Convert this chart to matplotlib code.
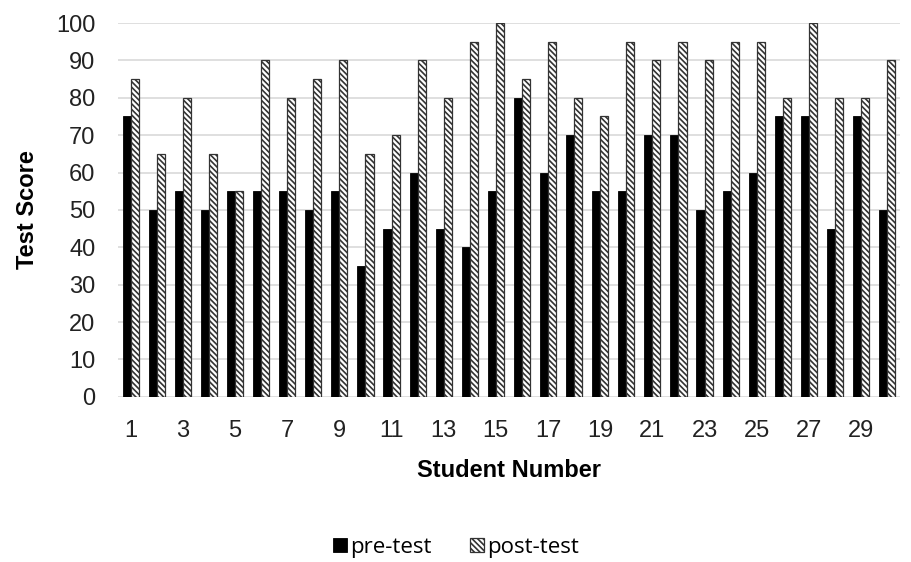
import matplotlib
matplotlib.use("Agg")
import matplotlib.pyplot as plt
import numpy as np

students = list(range(1, 31))
pre_test = [75, 50, 55, 50, 55, 55, 55, 50, 55, 35, 45, 60, 45, 40, 55,
            80, 60, 70, 55, 55, 70, 70, 50, 55, 60, 75, 75, 45, 75, 50]
post_test = [85, 65, 80, 65, 55, 90, 80, 85, 90, 65, 70, 90, 80, 95, 100,
             85, 95, 80, 75, 95, 90, 95, 90, 95, 95, 80, 100, 80, 80, 90]
tick_students = students[::2]

plt.rcParams["font.family"] = ["Liberation Sans", "DejaVu Sans"]
plt.rcParams["hatch.color"] = "#222222"
plt.rcParams["hatch.linewidth"] = 1.2

fig = plt.figure(figsize=(9.12, 5.62), dpi=100)
ax = fig.add_axes([0.129, 0.294, 0.858, 0.665])

x = np.array(students)
w = 0.31
ax.bar(x - w / 2, pre_test, w, color="black", edgecolor="black", lw=0.6,
       label="pre-test", zorder=3)
ax.bar(x + w / 2, post_test, w, color="white", edgecolor="#333333", lw=0.9,
       hatch="\\\\\\\\\\\\", label="post-test", zorder=3)

ax.set_xlim(0.5, 30.5)
ax.set_ylim(0, 100)
ax.set_yticks(range(0, 101, 10))
ax.set_xticks(tick_students)
ax.tick_params(length=0, labelsize=17, colors="#222222")
ax.tick_params(axis="y", pad=16)
ax.tick_params(axis="x", pad=17)
ax.grid(axis="y", color="#d9d9d9", lw=1.2, zorder=0)
for s in ax.spines.values():
    s.set_visible(False)

ax.set_xlabel("Student Number", fontsize=17, fontweight="bold", labelpad=12)
ax.set_ylabel("Test Score", fontsize=17, fontweight="bold", labelpad=12)

fig.legend(loc="lower center", bbox_to_anchor=(0.5, -0.028), ncol=2, frameon=False,
           prop={"family": "Open Sans", "size": 16}, handlelength=0.65,
           handleheight=0.65, handletextpad=0.15, columnspacing=1.7)

fig.savefig("out.png", dpi=100)
